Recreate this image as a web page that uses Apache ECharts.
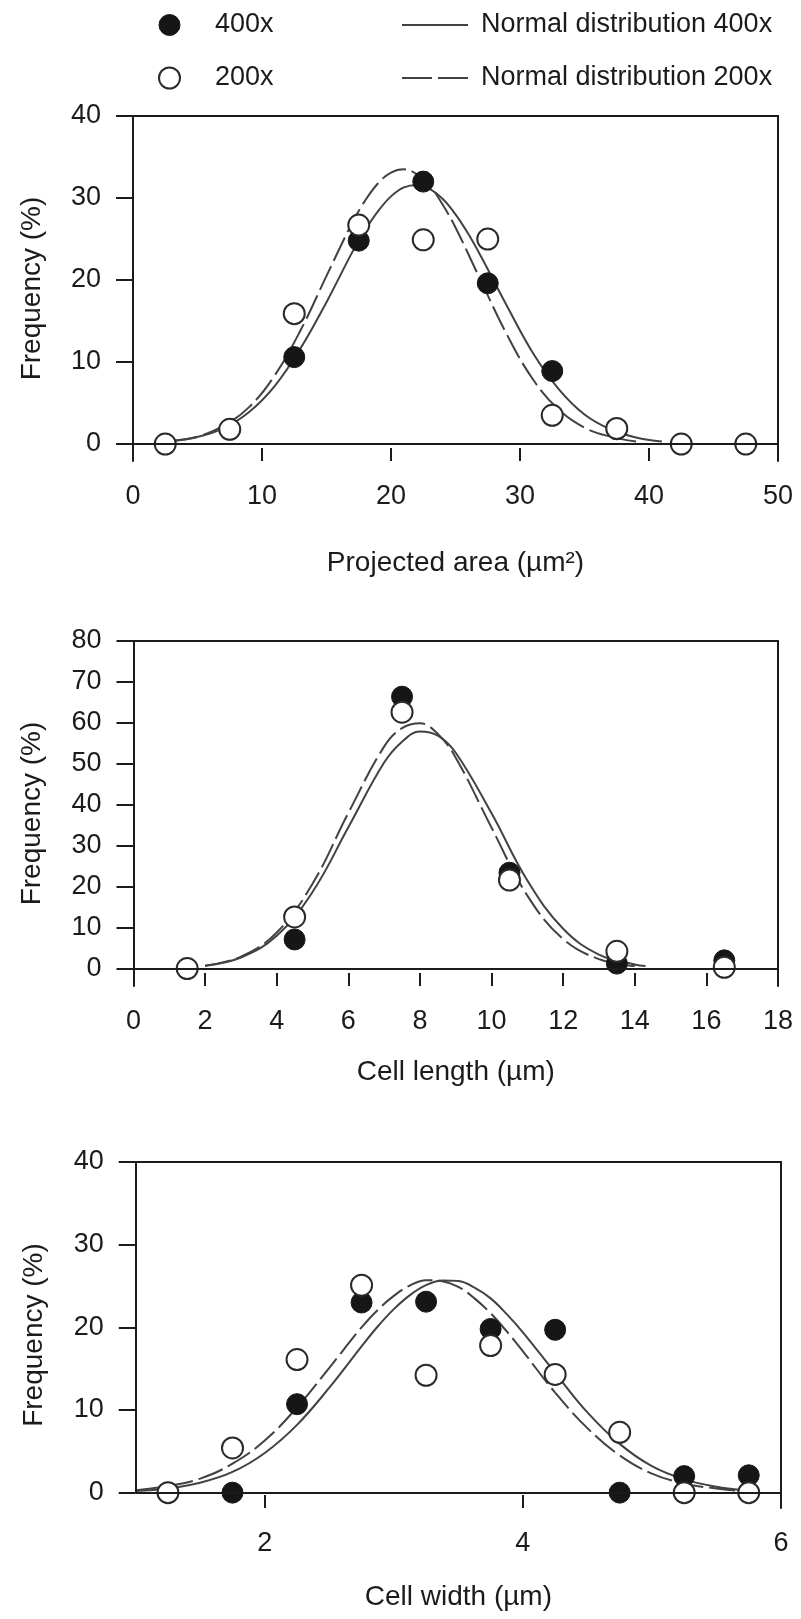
<!DOCTYPE html>
<html><head><meta charset="utf-8">
<script src="https://cdn.jsdelivr.net/npm/echarts@6/dist/echarts.min.js"></script>
<style>html,body{margin:0;padding:0;background:#fff}#c{width:801px;height:1619px}</style>
</head><body><div id="c"></div>
<script>
// ---------- data ----------
// Panel 1: projected area (µm²)
const areaBins   = [2.5, 7.5, 12.5, 17.5, 22.5, 27.5, 32.5, 37.5, 42.5, 47.5];
const area400    = [0, 1.8, 10.6, 24.8, 32.0, 19.6, 8.9, 1.8, 0, 0];
const area200    = [0, 1.8, 15.9, 26.7, 24.9, 25.0, 3.5, 1.9, 0, 0];
const areaFitX400 = [3, 5, 7, 9, 11, 13, 15, 17, 18, 19, 20, 21, 22, 23, 24, 25, 26, 27, 29, 31, 33, 35, 37, 39, 41];
const areaFit400  = [0.35, 0.86, 1.9, 3.9, 7.1, 11.7, 17.3, 23.4, 26.1, 28.4, 30.2, 31.3, 31.6, 31.1, 29.9, 28.0, 25.6, 22.8, 16.8, 11.1, 6.7, 3.6, 1.8, 0.8, 0.3];
const areaFitX200 = [3, 5, 7, 9, 11, 13, 15, 17, 18, 19, 20, 21, 22, 23, 24, 25, 27, 29, 31, 33, 35, 37, 39];
const areaFit200  = [0.4, 0.9, 2.2, 4.5, 8.4, 13.9, 20.5, 27.0, 29.7, 31.8, 33.1, 33.5, 32.9, 31.5, 29.2, 26.4, 19.8, 13.3, 7.9, 4.2, 2.0, 0.9, 0.3];
const areaTicksX  = [10, 20, 30, 40];
const areaLabelsX = [0, 10, 20, 30, 40, 50];
const areaTicksY  = [0, 10, 20, 30, 40];

// Panel 2: cell length (µm)
const lenBins    = [1.5, 4.5, 7.5, 10.5, 13.5, 16.5];
const len400     = [0, 7.1, 66.4, 23.4, 1.2, 2.0];
const len200     = [0, 12.6, 62.6, 21.6, 4.2, 0.3];
const lenFitX400 = [2, 3, 4, 5, 6, 7, 7.5, 8, 8.5, 9, 10, 11, 12, 13, 14, 14.3];
const lenFit400  = [0.7, 2.7, 8.0, 18.7, 34.5, 50.3, 55.4, 57.9, 56.9, 52.7, 37.9, 21.5, 9.7, 3.4, 1.0, 0.6];
const lenFitX200 = [2, 3, 4, 5, 6, 7, 7.5, 8, 8.5, 9, 10, 11, 12, 13, 14];
const lenFit200  = [0.7, 2.9, 8.8, 20.7, 38.0, 54.2, 58.7, 59.9, 57.3, 51.5, 34.4, 17.8, 7.2, 2.3, 0.6];
const lenTicksX  = [2, 4, 6, 8, 10, 12, 14, 16];
const lenLabelsX = [0, 2, 4, 6, 8, 10, 12, 14, 16, 18];
const lenTicksY  = [0, 10, 20, 30, 40, 50, 60, 70, 80];

// Panel 3: cell width (µm)
const widBins   = [1.25, 1.75, 2.25, 2.75, 3.25, 3.75, 4.25, 4.75, 5.25, 5.75];
const wid400    = [0, 0, 10.7, 23.0, 23.1, 19.8, 19.7, 0, 2.0, 2.1];
const wid200    = [0, 5.4, 16.1, 25.1, 14.2, 17.8, 14.3, 7.3, 0, 0];
const widFitX   = [1, 1.25, 1.5, 1.75, 2, 2.25, 2.5, 2.75, 2.875, 3, 3.125, 3.25, 3.375, 3.5, 3.625, 3.75, 3.875, 4, 4.25, 4.5, 4.75, 5, 5.25, 5.5, 5.7];
const widFit400 = [0.2, 0.5, 1.2, 2.5, 4.8, 8.2, 12.7, 17.7, 20.1, 22.2, 23.9, 25.1, 25.66, 25.6, 24.8, 23.5, 21.6, 19.4, 14.5, 9.7, 5.9, 3.2, 1.6, 0.7, 0.3];
const widFit200 = [0.3, 0.8, 1.7, 3.5, 6.3, 10.3, 15.1, 20.0, 22.1, 23.8, 25.06, 25.7, 25.58, 24.9, 23.5, 21.7, 19.5, 17.1, 12.1, 7.8, 4.5, 2.3, 1.1, 0.5, 0.2];
const widTicksX  = [2, 4];
const widLabelsX = [2, 4, 6];
const widTicksY  = [0, 10, 20, 30, 40];

const seriesNames = ['400x', '200x', 'Normal distribution 400x', 'Normal distribution 200x'];
const xTitles = ['Projected area (µm²)', 'Cell length (µm)', 'Cell width (µm)'];
const yTitle = 'Frequency (%)';

// ---------- styling ----------
const FONT = "'Liberation Sans', Arial, sans-serif";
const INK = '#1b1b1b';
const LINE = '#424242';
const DASH = [26, 6];
const LEGEND_DASH = [30, 6];
const FS = 27;
const FS_TITLE = 28;

const panels = [
  { grid: {left: 133, top: 116, width: 645, height: 345},
    xMin: 0, xMax: 50, yMin: -2.07, yMax: 40, leftLine: true, nameGap: 88,
    bins: areaBins, s400: area400, s200: area200,
    fx4: areaFitX400, f4: areaFit400, fx2: areaFitX200, f2: areaFit200,
    tx: areaTicksX, lx: areaLabelsX, ty: areaTicksY },
  { grid: {left: 133.5, top: 641, width: 644.5, height: 345},
    xMin: 0, xMax: 18, yMin: -4.27, yMax: 80, leftLine: true, nameGap: 72,
    bins: lenBins, s400: len400, s200: len200,
    fx4: lenFitX400, f4: lenFit400, fx2: lenFitX200, f2: lenFit200,
    tx: lenTicksX, lx: lenLabelsX, ty: lenTicksY },
  { grid: {left: 135.7, top: 1162, width: 645.3, height: 346},
    xMin: 1, xMax: 6, yMin: -1.86, yMax: 40, leftLine: false, nameGap: 75,
    bins: widBins, s400: wid400, s200: wid200,
    fx4: widFitX, f4: widFit400, fx2: widFitX, f2: widFit200,
    tx: widTicksX, lx: widLabelsX, ty: widTicksY }
];

const zip = (xs, ys) => xs.map((x, i) => [x, ys[i]]);
const txt = {fontSize: FS, fontFamily: FONT, color: INK};
const titleTxt = {fontSize: FS_TITLE, fontFamily: FONT, color: INK};
const axLine = {color: INK, width: 2};

const grids = [], xAxes = [], yAxes = [], series = [];
panels.forEach((p, i) => {
  grids.push(Object.assign({outerBoundsMode: 'none', containLabel: false}, p.grid));
  xAxes.push({
    type: 'value', gridIndex: i, min: p.xMin, max: p.xMax, position: 'bottom',
    axisLine: {show: false, onZero: false},
    axisTick: {show: true, inside: true, length: 13, customValues: p.tx, lineStyle: axLine},
    axisLabel: Object.assign({customValues: p.lx, margin: 22}, txt),
    splitLine: {show: false},
    name: xTitles[i], nameLocation: 'middle', nameGap: p.nameGap, nameTextStyle: titleTxt
  });
  xAxes.push({
    type: 'value', gridIndex: i, min: p.xMin, max: p.xMax, position: 'top',
    axisLine: {show: true, onZero: false, lineStyle: axLine},
    axisTick: {show: false}, axisLabel: {show: false}, splitLine: {show: false}
  });
  yAxes.push({
    type: 'value', gridIndex: i, min: p.yMin, max: p.yMax, position: 'left',
    axisLine: {show: p.leftLine, onZero: false, lineStyle: axLine},
    axisTick: {show: true, length: 17, customValues: p.ty, lineStyle: axLine},
    axisLabel: Object.assign({customValues: p.ty, margin: 32}, txt),
    splitLine: {show: false},
    name: yTitle, nameLocation: 'middle', nameRotate: 90, nameGap: 87, nameTextStyle: titleTxt
  });
  yAxes.push({
    type: 'value', gridIndex: i, min: p.yMin, max: p.yMax, position: 'right',
    axisLine: {show: true, onZero: false, lineStyle: axLine},
    axisTick: {show: false}, axisLabel: {show: false}, splitLine: {show: false}
  });
  const xi = 2 * i, yi = 2 * i;
  const mlData = [{yAxis: 0}];
  if (!p.leftLine) mlData.push([{coord: [p.xMin, 0]}, {coord: [p.xMin, p.yMax]}]);
  series.push({
    name: seriesNames[2], type: 'line', xAxisIndex: xi, yAxisIndex: yi,
    data: zip(p.fx4, p.f4), smooth: 0.4, symbol: 'none', z: 2,
    lineStyle: {color: LINE, width: 2, type: 'solid'}, itemStyle: {color: LINE},
    markLine: {silent: true, symbol: 'none', label: {show: false},
      lineStyle: {color: INK, width: 2, type: 'solid'}, data: mlData, animation: false}
  });
  series.push({
    name: seriesNames[3], type: 'line', xAxisIndex: xi, yAxisIndex: yi,
    data: zip(p.fx2, p.f2), smooth: 0.4, symbol: 'none', z: 2,
    lineStyle: {color: LINE, width: 2, type: DASH}, itemStyle: {color: LINE}
  });
  series.push({
    name: seriesNames[0], type: 'scatter', xAxisIndex: xi, yAxisIndex: yi,
    data: zip(p.bins, p.s400), symbol: 'circle', symbolSize: 21, z: 3,
    itemStyle: {color: '#161616', borderColor: '#161616', borderWidth: 1, opacity: 1}
  });
  series.push({
    name: seriesNames[1], type: 'scatter', xAxisIndex: xi, yAxisIndex: yi,
    data: zip(p.bins, p.s200), symbol: 'circle', symbolSize: 21, z: 4,
    itemStyle: {color: '#ffffff', borderColor: '#2a2a2a', borderWidth: 2, opacity: 1}
  });
});

const legendText = {fontSize: FS, fontFamily: FONT, color: INK, lineHeight: 30};
const hiddenSymbol = {color: 'rgba(0,0,0,0)', borderWidth: 0, opacity: 0};
const option = {
  backgroundColor: '#ffffff',
  animation: false,
  grid: grids, xAxis: xAxes, yAxis: yAxes, series: series,
  legend: [
    { orient: 'vertical', left: 153, top: 5, itemWidth: 21, itemHeight: 21, itemGap: 23,
      selectedMode: false,
      textStyle: Object.assign({padding: [0, 0, 0, 30]}, legendText),
      data: [
        {name: seriesNames[0], icon: 'circle', itemStyle: {color: '#161616', borderColor: '#161616', borderWidth: 1}},
        {name: seriesNames[1], icon: 'circle', itemStyle: {color: '#ffffff', borderColor: '#2a2a2a', borderWidth: 2}}
      ] },
    { orient: 'vertical', left: 396, top: 5, itemWidth: 66, itemHeight: 21, itemGap: 23,
      selectedMode: false,
      textStyle: Object.assign({padding: [0, 0, 0, 8]}, legendText),
      data: [
        {name: seriesNames[2], itemStyle: hiddenSymbol, lineStyle: {color: LINE, width: 2, type: 'solid'}},
        {name: seriesNames[3], itemStyle: hiddenSymbol, lineStyle: {color: LINE, width: 2, type: LEGEND_DASH}}
      ] }
  ]
};

const chart = echarts.init(document.getElementById('c'), null, {renderer: 'canvas', width: 801, height: 1619});
chart.setOption(option);
</script></body></html>
